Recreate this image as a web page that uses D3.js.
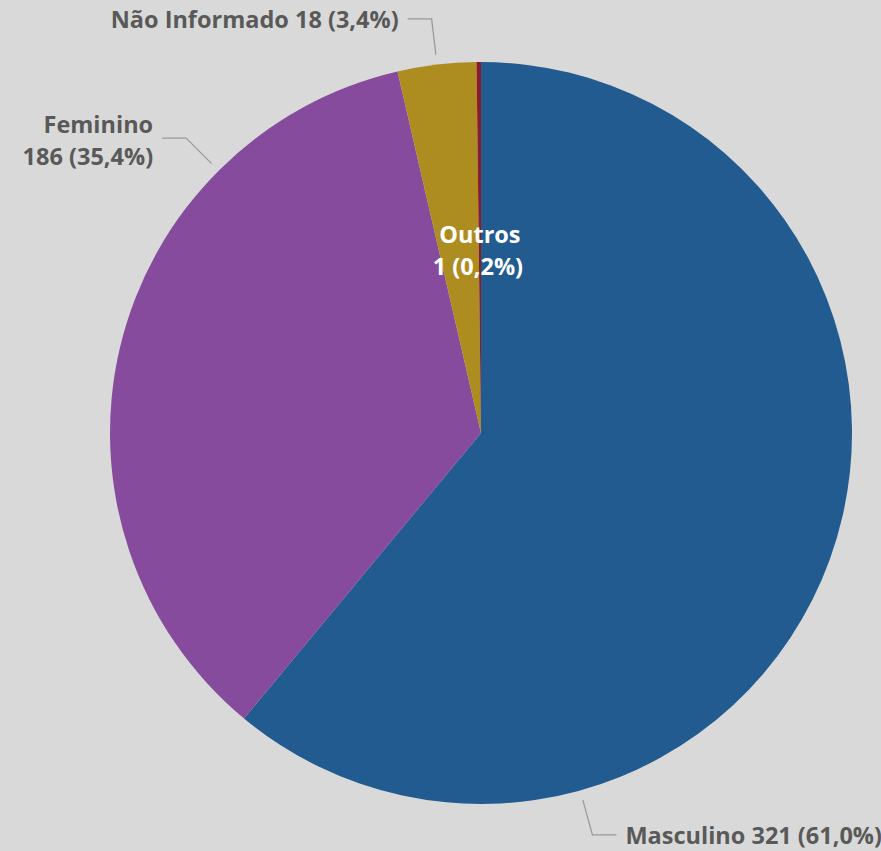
<!DOCTYPE html>
<html>
<head>
<meta charset="utf-8">
<script src="https://cdn.jsdelivr.net/npm/d3@7"></script>
<style>
  html, body { margin: 0; padding: 0; background: #d9d9d9; }
  svg { display: block; }
  text { font-family: "Open Sans", "Noto Sans", sans-serif; font-weight: 700; }
</style>
</head>
<body>
<svg id="chart"></svg>
<script>
const categories = ['Masculino', 'Feminino', 'Não Informado', 'Outros'];
const values = [321, 186, 18, 1];
const percentLabels = ['61,0%', '35,4%', '3,4%', '0,2%'];
const colors = ['#215b90', '#874b9e', '#ae8d20', '#8b1b2b'];

initPie();

function initPie() {
    const size = { w: 881, h: 851 };
    const center = { x: 481, y: 433 };
    const radius = 371;
    const fontSize = 23.5;

    // where each outside label's leader leaves the slice (degrees clockwise from top)
    const labelLayout = [
        { angle: 164.5, side: 'right', lines: 1 },
        { angle: 315, side: 'left', lines: 2 },
        { angle: 353.2, side: 'left', lines: 1 },
        { inside: true }
    ];

    const svg = d3.select('#chart')
        .attr('width', size.w)
        .attr('height', size.h);

    const g = svg.append('g')
        .attr('transform', 'translate(' + center.x + ',' + center.y + ')');

    const pie = d3.pie().sort(null).value((d) => d.value);
    const arc = d3.arc().innerRadius(0).outerRadius(radius);
    const color = d3.scaleOrdinal().domain(categories).range(colors);

    const data = categories.map((c, i) => ({ name: c, value: values[i], pct: percentLabels[i] }));
    const arcs = pie(data);

    g.selectAll('path.slice')
        .data(arcs)
        .enter()
        .append('path')
        .attr('class', 'slice')
        .attr('d', arc)
        .attr('fill', (d) => color(d.data.name));

    // Labels
    arcs.forEach((d, i) => {
        const lay = labelLayout[i];
        if (lay.inside) {
            const mid = (d.startAngle + d.endAngle) / 2;
            const r = radius * 0.49;
            const x = Math.sin(mid) * r;
            const y = -Math.cos(mid) * r;
            const t = g.append('text')
                .attr('text-anchor', 'middle')
                .attr('fill', '#ffffff')
                .attr('font-size', fontSize);
            t.append('tspan').attr('x', x).attr('y', y - 16).attr('dy', '0.35em').text(d.data.name);
            t.append('tspan').attr('x', x - 2).attr('y', y + 16).attr('dy', '0.35em').text(d.data.value + ' (' + d.data.pct + ')');
            return;
        }
        const a = lay.angle * Math.PI / 180;
        const p0 = [Math.sin(a) * (radius + 10), -Math.cos(a) * (radius + 10)];
        const p1 = [Math.sin(a) * (radius + 46), -Math.cos(a) * (radius + 46)];
        const dir = lay.side === 'right' ? 1 : -1;
        const p2 = [p1[0] + dir * 24, p1[1]];

        g.append('polyline')
            .attr('points', [p0, p1, p2].map((p) => p.join(',')).join(' '))
            .attr('fill', 'none')
            .attr('stroke', '#9a9a9a')
            .attr('stroke-width', 1.3);

        const t = g.append('text')
            .attr('text-anchor', dir > 0 ? 'start' : 'end')
            .attr('fill', '#595959')
            .attr('font-size', fontSize);
        const tx = p2[0] + dir * 9;
        if (lay.lines === 2) {
            t.append('tspan').attr('x', tx).attr('y', p2[1] - 13).attr('dy', '0.35em').text(d.data.name);
            t.append('tspan').attr('x', tx).attr('y', p2[1] + 19).attr('dy', '0.35em').text(d.data.value + ' (' + d.data.pct + ')');
        } else {
            t.append('tspan').attr('x', tx).attr('y', p2[1] + 1).attr('dy', '0.35em')
                .text(d.data.name + ' ' + d.data.value + ' (' + d.data.pct + ')');
        }
    });
}
</script>
</body>
</html>
